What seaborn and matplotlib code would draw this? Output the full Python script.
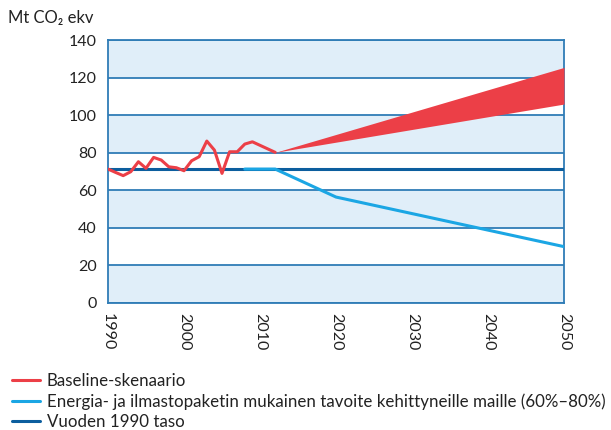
import matplotlib
matplotlib.use("Agg")
import matplotlib.pyplot as plt
import seaborn as sns
import pandas as pd

# Historical emissions (baseline scenario), Mt CO2 eq
hist_years = [1990, 1991, 1992, 1993, 1994, 1995, 1996, 1997, 1998, 1999,
              2000, 2001, 2002, 2003, 2004, 2005, 2006, 2007, 2008, 2009, 2012]
hist_values = [71.3, 69.5, 67.8, 69.9, 75.2, 71.7, 77.5, 76.1, 72.5, 72.0,
               70.4, 75.7, 77.9, 86.2, 81.4, 69.0, 80.5, 80.5, 84.6, 85.8, 80.2]

# Baseline projection range
band_years = [2012, 2050]
band_low = [80.2, 105.9]
band_high = [80.2, 125.4]

# Target path for developed countries (60%-80%)
target_years = [2008, 2012, 2020, 2050]
target_values = [71.3, 71.3, 56.4, 30.0]

# 1990 level
level_years = [1990, 2050]
level_values = [71.3, 71.3]

x_ticks = [1990, 2000, 2010, 2020, 2030, 2040, 2050]
y_ticks = [0, 20, 40, 60, 80, 100, 120, 140]

labels = ["Baseline-skenaario",
          "Energia- ja ilmastopaketin mukainen tavoite kehittyneille maille (60%\u201380%)",
          "Vuoden 1990 taso"]

RED = "#ec3f47"
LIGHT = "#1ba6e4"
DARK = "#0c5e9e"
GRID = "#2f7cb6"
BAND = "#e0eef9"

sns.set_theme(style="white")
plt.rcParams["font.family"] = ["Lato", "DejaVu Sans"]

fig = plt.figure(figsize=(6.11, 4.30), dpi=100)
ax = fig.add_axes([108 / 611, 1 - 303 / 430, (564 - 108) / 611, (303 - 40) / 430])

# Alternating background bands
for lo, hi in zip(y_ticks[:-1], y_ticks[1:]):
    if lo in (0, 40, 80, 120):
        ax.axhspan(lo, hi, color=BAND, lw=0, zorder=0)
for y in y_ticks:
    ax.axhline(y, color=GRID, lw=1.3, zorder=1)

df_hist = pd.DataFrame({"year": hist_years, "value": hist_values})
df_target = pd.DataFrame({"year": target_years, "value": target_values})
df_level = pd.DataFrame({"year": level_years, "value": level_values})

sns.lineplot(data=df_level, x="year", y="value", ax=ax, color=DARK, lw=2.2,
             label=labels[2], zorder=3)
sns.lineplot(data=df_target, x="year", y="value", ax=ax, color=LIGHT, lw=2.2,
             label=labels[1], zorder=4)
sns.lineplot(data=df_hist, x="year", y="value", ax=ax, color=RED, lw=2.2,
             label=labels[0], zorder=5)
ax.fill_between(band_years, band_low, band_high, color=RED, lw=0, zorder=5)

ax.set_xlim(1990, 2050)
ax.set_ylim(0, 140)
ax.set_xticks(x_ticks)
ax.set_yticks(y_ticks)
ax.set_xticklabels([str(x) for x in x_ticks], rotation=-90, va="top", ha="center")
ax.set_xlabel("")
ax.set_ylabel("")
ax.tick_params(axis="both", which="major", direction="out", length=4, width=1.2,
               color=GRID, labelsize=11.5, labelcolor="#222222", pad=3)
ax.tick_params(axis="y", pad=4)
for side in ["left", "right", "bottom", "top"]:
    ax.spines[side].set_visible(True)
    ax.spines[side].set_color(GRID)
    ax.spines[side].set_linewidth(1.3)

fig.text(8 / 611, 1 - 18 / 430, "Mt CO\u2082 ekv", fontsize=12, color="#222222",
         va="center", ha="left")

handles, labs = ax.get_legend_handles_labels()
order = [labs.index(l) for l in labels]
ax.get_legend().remove()
fig.legend([handles[i] for i in order], [labs[i] for i in order],
           loc="upper left", bbox_to_anchor=(0.0, 1 - 361 / 430), frameon=False,
           fontsize=12.2, handlelength=1.65, handletextpad=0.4, labelspacing=0.25,
           borderaxespad=0.3, labelcolor="#222222")

fig.savefig("out.png", dpi=100)
